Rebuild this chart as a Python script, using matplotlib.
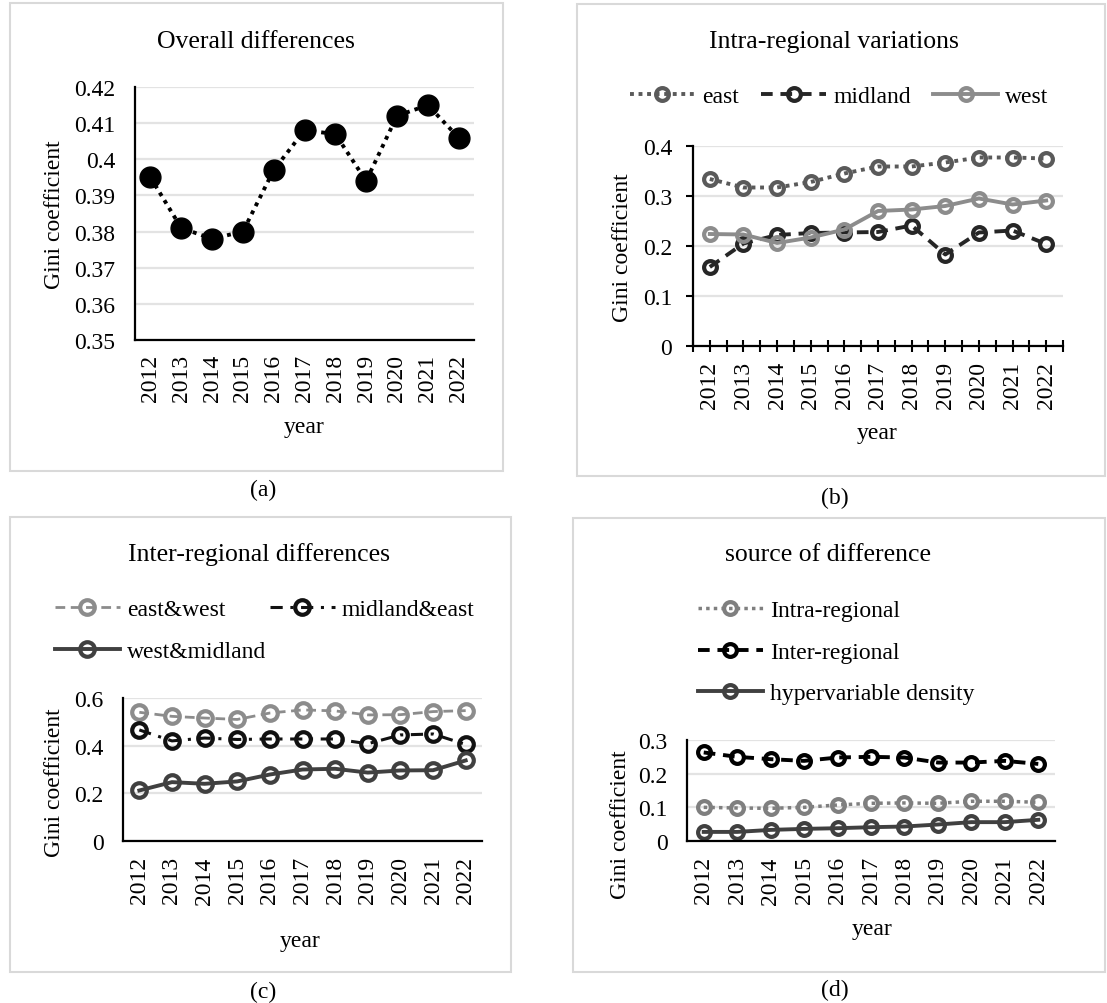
import matplotlib
matplotlib.use("Agg")
import matplotlib.pyplot as plt
from matplotlib.patches import Rectangle
import numpy as np

plt.rcParams['font.family'] = ['Liberation Serif', 'DejaVu Serif']

years = ['2012', '2013', '2014', '2015', '2016', '2017', '2018', '2019', '2020', '2021', '2022']

# (a) Overall differences
overall = [0.395, 0.381, 0.378, 0.380, 0.397, 0.408, 0.407, 0.394, 0.412, 0.415, 0.406]

# (b) Intra-regional variations
east = [0.334, 0.317, 0.317, 0.328, 0.345, 0.359, 0.359, 0.367, 0.377, 0.377, 0.375]
midland = [0.158, 0.205, 0.222, 0.226, 0.227, 0.228, 0.241, 0.183, 0.227, 0.231, 0.204]
west = [0.224, 0.223, 0.206, 0.217, 0.233, 0.270, 0.273, 0.280, 0.295, 0.283, 0.291]

# (c) Inter-regional differences
east_west = [0.540, 0.523, 0.516, 0.510, 0.537, 0.550, 0.546, 0.529, 0.530, 0.543, 0.547]
midland_east = [0.466, 0.420, 0.432, 0.426, 0.428, 0.428, 0.428, 0.408, 0.445, 0.449, 0.405]
west_midland = [0.212, 0.247, 0.240, 0.250, 0.279, 0.300, 0.303, 0.287, 0.296, 0.297, 0.338]

# (d) source of difference
intra_regional = [0.100, 0.098, 0.097, 0.100, 0.107, 0.112, 0.113, 0.112, 0.118, 0.118, 0.115]
inter_regional = [0.263, 0.250, 0.243, 0.238, 0.248, 0.250, 0.248, 0.233, 0.233, 0.238, 0.229]
hypervariable = [0.027, 0.027, 0.033, 0.036, 0.038, 0.041, 0.043, 0.049, 0.056, 0.056, 0.063]

W, H = 1107, 1004
fig = plt.figure(figsize=(W / 100, H / 100), dpi=100)


def fx(px):
    return px / W


def fy(py):
    return 1 - py / H


def add_ax(l, r, t, b):
    return fig.add_axes([fx(l), fy(b), (r - l) / W, (b - t) / H])


def frame(l, r, t, b):
    fig.patches.append(Rectangle((fx(l), fy(b)), (r - l) / W, (b - t) / H,
                                 transform=fig.transFigure, fill=False,
                                 edgecolor='#d9d9d9', linewidth=1.5))


def fmt(v):
    return ('%.2f' % v).rstrip('0').rstrip('.') if v != 0 else '0'


FS = 17
TFS = 18.5
x = np.arange(len(years))


def style(ax, yticks, ylim, ticks=False, xpad=10):
    ax.set_xlim(-0.5, len(years) - 0.5)
    ax.set_ylim(*ylim)
    ax.set_yticks(yticks)
    ax.set_yticklabels([fmt(v) for v in yticks])
    ax.set_xticks(x)
    ax.set_xticklabels(years, rotation=90)
    for s in ['top', 'right']:
        ax.spines[s].set_visible(False)
    for s in ['left', 'bottom']:
        ax.spines[s].set_linewidth(1.6)
        ax.spines[s].set_color('black')
    ax.yaxis.grid(True, color='#e3e3e3', linewidth=1.6)
    ax.set_axisbelow(True)
    if ticks:
        ax.tick_params(axis='y', length=5, width=1.5, pad=10, labelsize=FS)
        ax.set_xticks(np.arange(-0.5, len(years), 1.0), minor=True)
        ax.tick_params(axis='x', which='both', direction='inout', length=9, width=1.5,
                       pad=6, labelsize=FS)
    else:
        ax.tick_params(axis='y', length=0, pad=14, labelsize=FS)
        ax.tick_params(axis='x', length=0, pad=xpad, labelsize=FS)


def legend(ax, handles, labels, ncol, x0, yc, spacing=0.95, colspace=1.0):
    lg = ax.legend(handles, labels, ncol=ncol, loc='center left',
                   bbox_to_anchor=(fx(x0), fy(yc)), bbox_transform=fig.transFigure,
                   frameon=False, fontsize=FS, handlelength=2.75, handletextpad=0.3,
                   columnspacing=colspace, borderpad=0, borderaxespad=0,
                   labelspacing=spacing, numpoints=1)
    return lg


# ---------------- (a) ----------------
frame(10, 503, 4, 472)
axa = add_ax(135, 474, 88, 341)
axa.plot(x, overall, color='black', linestyle=(0, (1, 1.3)), linewidth=2.8,
         marker='o', markersize=15, markerfacecolor='black', markeredgecolor='black')
style(axa, [0.35, 0.36, 0.37, 0.38, 0.39, 0.40, 0.41, 0.42], (0.35, 0.42), xpad=10)
fig.text(fx(256), fy(42), 'Overall differences', ha='center', va='center', fontsize=TFS)
fig.text(fx(55), fy(215), 'Gini coefficient', ha='center', va='center', rotation=90, fontsize=FS)
fig.text(fx(304), fy(428), 'year', ha='center', va='center', fontsize=FS)
fig.text(fx(263), fy(490), '(a)', ha='center', va='center', fontsize=FS)

# ---------------- (b) ----------------
MS, MEW = 9.2, 3.0
frame(577, 1105, 5, 477)
axb = add_ax(693, 1063, 147, 347)
hb1, = axb.plot(x, east, color='#5a5a5a', linestyle=(0, (1, 1.2)), linewidth=2.8,
                marker='o', markersize=MS, markeredgewidth=MEW, markerfacecolor='none')
hb2, = axb.plot(x, midland, color='#262626', linestyle=(0, (3, 2)), linewidth=2.8,
                marker='o', markersize=MS, markeredgewidth=MEW, markerfacecolor='none')
hb3, = axb.plot(x, west, color='#8c8c8c', linestyle='-', linewidth=2.8,
                marker='o', markersize=MS, markeredgewidth=MEW, markerfacecolor='none')
style(axb, [0, 0.1, 0.2, 0.3, 0.4], (0, 0.4), ticks=True)
legend(axb, [hb1, hb2, hb3], ['east', 'midland', 'west'], 3, 630, 97, colspace=0.95)
fig.text(fx(834), fy(42), 'Intra-regional variations', ha='center', va='center', fontsize=TFS)
fig.text(fx(623), fy(248), 'Gini coefficient', ha='center', va='center', rotation=90, fontsize=FS)
fig.text(fx(877), fy(433), 'year', ha='center', va='center', fontsize=FS)
fig.text(fx(835), fy(498), '(b)', ha='center', va='center', fontsize=FS)

# ---------------- (c) ----------------
MSC = 10.5
frame(10, 511, 518, 973)
axc = add_ax(123, 482, 699, 842)
hc1, = axc.plot(x, east_west, color='#8c8c8c', linestyle=(0, (3.5, 2)), linewidth=2.0,
                marker='o', markersize=MSC, markeredgewidth=MEW, markerfacecolor='none')
hc2, = axc.plot(x, midland_east, color='#111111', linestyle=(0, (4, 2.5, 1, 2.5)), linewidth=2.2,
                marker='o', markersize=MSC, markeredgewidth=MEW, markerfacecolor='none')
hc3, = axc.plot(x, west_midland, color='#404040', linestyle='-', linewidth=2.8,
                marker='o', markersize=MSC, markeredgewidth=MEW, markerfacecolor='none')
style(axc, [0, 0.2, 0.4, 0.6], (0, 0.6), xpad=11)
legend(axc, [hc1, hc3, hc2], ['east&west', 'west&midland', 'midland&east'], 2, 55, 631.5,
       spacing=0.85, colspace=0.15)
fig.text(fx(259), fy(555), 'Inter-regional differences', ha='center', va='center', fontsize=TFS)
fig.text(fx(55), fy(783), 'Gini coefficient', ha='center', va='center', rotation=90, fontsize=FS)
fig.text(fx(300), fy(942), 'year', ha='center', va='center', fontsize=FS)
fig.text(fx(263), fy(992), '(c)', ha='center', va='center', fontsize=FS)

# ---------------- (d) ----------------
frame(573, 1105, 519, 973)
axd = add_ax(687, 1055, 741, 842)
hd1, = axd.plot(x, intra_regional, color='#7f7f7f', linestyle=(0, (1, 1.2)), linewidth=2.5,
                marker='o', markersize=MS, markeredgewidth=MEW, markerfacecolor='none')
hd2, = axd.plot(x, inter_regional, color='black', linestyle=(0, (3, 2)), linewidth=2.8,
                marker='o', markersize=MS, markeredgewidth=MEW, markerfacecolor='none')
hd3, = axd.plot(x, hypervariable, color='#404040', linestyle='-', linewidth=2.8,
                marker='o', markersize=MS, markeredgewidth=MEW, markerfacecolor='none')
style(axd, [0, 0.1, 0.2, 0.3], (0, 0.3), xpad=11)
legend(axd, [hd1, hd2, hd3], ['Intra-regional', 'Inter-regional', 'hypervariable density'], 1,
       698, 653, spacing=0.85)
fig.text(fx(828), fy(555), 'source of difference', ha='center', va='center', fontsize=TFS)
fig.text(fx(620), fy(825), 'Gini coefficient', ha='center', va='center', rotation=90, fontsize=FS)
fig.text(fx(872), fy(930), 'year', ha='center', va='center', fontsize=FS)
fig.text(fx(835), fy(990), '(d)', ha='center', va='center', fontsize=FS)

fig.savefig('out.png', dpi=100, facecolor='white')
